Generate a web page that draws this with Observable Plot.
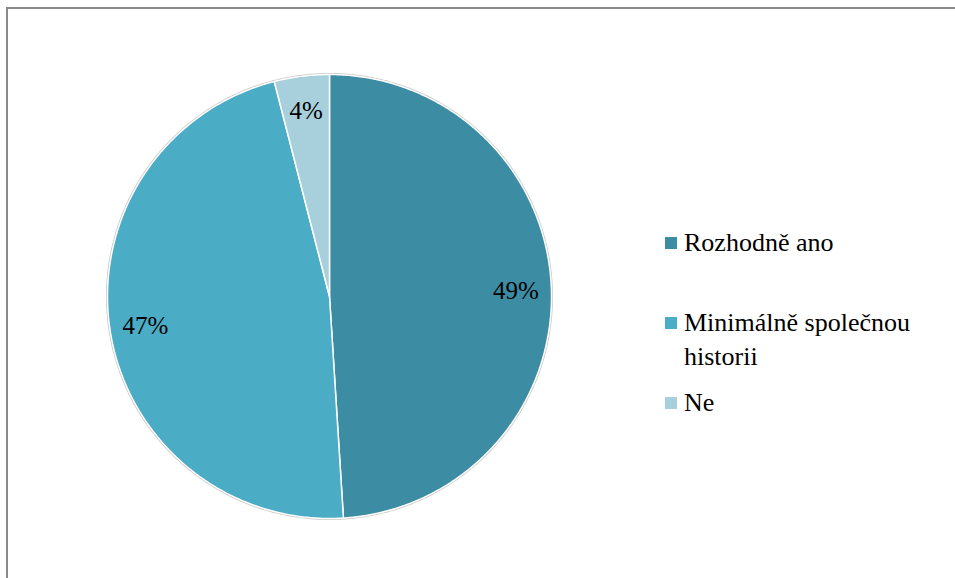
<!DOCTYPE html>
<html>
<head>
<meta charset="utf-8">
<script src="https://cdn.jsdelivr.net/npm/d3@7"></script>
<script src="https://cdn.jsdelivr.net/npm/@observablehq/plot@0.6"></script>
<style>
  html, body { margin: 0; padding: 0; background: #fff; overflow: hidden; }
  #wrap { position: relative; width: 955px; height: 578px; overflow: hidden; font-family: "Liberation Serif", "Tinos", "DejaVu Serif", "Noto Serif", "Times New Roman", serif; }
  #frame { position: absolute; left: 6px; top: 7px; width: 1000px; height: 1000px; border-top: 2px solid #8a8a8a; border-left: 2px solid #8a8a8a; }
  #chart { position: absolute; left: 0; top: 0; }
  #legend { position: absolute; left: 665px; top: 226px; font-size: 26px; color: #000; }
  .item { display: flex; align-items: flex-start; line-height: 34px; margin: 0 0 12px 0; }
  .item:first-child { margin-bottom: 46px; }
  .sw { width: 12px; height: 12px; flex: none; margin-top: 11px; margin-right: 7px; }
  .lab { max-width: 265px; }
</style>
</head>
<body>
<div id="wrap">
  <div id="frame"></div>
  <div id="chart"></div>
  <div id="legend"></div>
</div>
<script>
const categories = ["Rozhodně ano", "Minimálně společnou historii", "Ne"];
const values = [49, 47, 4];
const colors = ["#3c8ca3", "#4bacc6", "#a8cfdc"];

const serif = "'Liberation Serif', Tinos, 'DejaVu Serif', 'Noto Serif', 'Times New Roman', serif";
const total = d3.sum(values);
const pie = d3.pie().sort(null).value(d => d)(values);

function slicePolygon(a0, a1) {
  const pts = [[0, 0]];
  const n = Math.max(2, Math.ceil((a1 - a0) / (Math.PI / 360)));
  for (let i = 0; i <= n; i++) {
    const a = a0 + (a1 - a0) * i / n;
    pts.push([Math.sin(a), Math.cos(a)]);
  }
  pts.push([0, 0]);
  return pts;
}

const slices = pie.map((p, i) => ({
  type: "Feature",
  properties: { name: categories[i], value: values[i], color: colors[i] },
  geometry: { type: "Polygon", coordinates: [slicePolygon(p.startAngle, p.endAngle)] }
}));

const outline = { type: "Feature", geometry: { type: "Polygon", coordinates: [slicePolygon(0, 2 * Math.PI).slice(1, -1).concat([[0, 1]])] } };

const labels = pie.map((p, i) => {
  const mid = (p.startAngle + p.endAngle) / 2;
  const r = 0.84;
  return { text: Math.round(values[i] / total * 100) + "%", x: r * Math.sin(mid), y: r * Math.cos(mid) };
});

const domain = { type: "MultiPoint", coordinates: [[-1, 0], [1, 0], [0, -1], [0, 1]] };

const chart = Plot.plot({
  width: 955,
  height: 578,
  marginLeft: 107,
  marginRight: 404,
  marginTop: 74,
  marginBottom: 60,
  projection: { type: "reflect-y", domain },
  style: { background: "transparent", overflow: "visible", fontFamily: serif },
  marks: [
    Plot.geo([outline], { stroke: "#c8c8c8", strokeWidth: 3, fill: "none" }),
    Plot.geo(slices, { fill: d => d.properties.color, stroke: "#ffffff", strokeWidth: 1.5, strokeLinejoin: "round" }),
    Plot.text(labels, { x: "x", y: "y", text: "text", fill: "#000", fontSize: 25, fontFamily: serif })
  ]
});
document.getElementById("chart").appendChild(chart);

const legend = d3.select("#legend");
categories.forEach((c, i) => {
  const item = legend.append("div").attr("class", "item");
  item.append("div").attr("class", "sw").style("background", colors[i]);
  item.append("div").attr("class", "lab").text(c);
});
</script>
</body>
</html>
